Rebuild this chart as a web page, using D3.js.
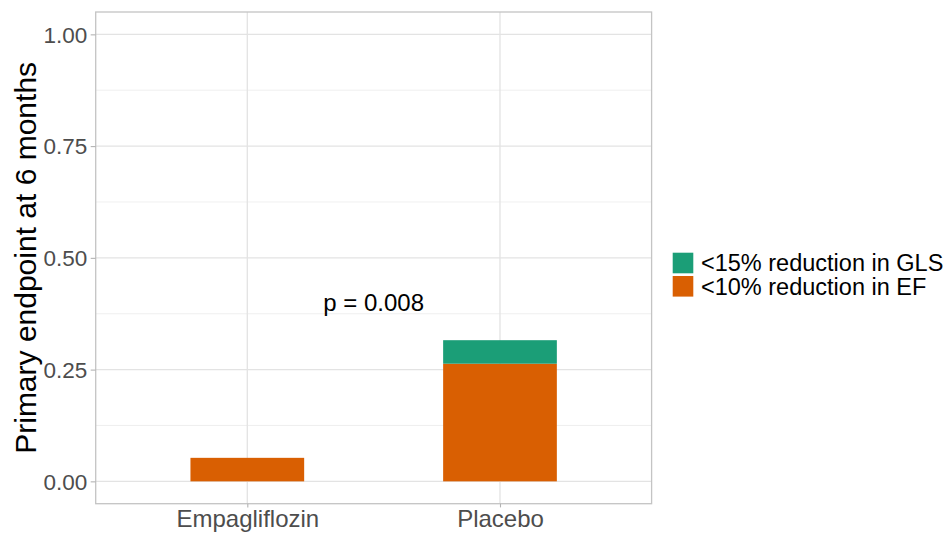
<!DOCTYPE html>
<html>
<head>
<meta charset="utf-8">
<script src="https://cdn.jsdelivr.net/npm/d3@7"></script>
<style>
  html, body { margin: 0; padding: 0; background: #fff; }
  text { font-family: "Liberation Sans", Arial, sans-serif; }
</style>
</head>
<body>
<svg id="chart" width="949" height="537"></svg>
<script>
// Treatment arms
const arms = ["Empagliflozin", "Placebo"];
// Proportion with <10% reduction in EF, per arm
const efReduction = [0.0526, 0.2632];
// Additional proportion with <15% reduction in GLS, per arm
const glsReduction = [0, 0.0526];
// Stack series, drawn bottom to top
const seriesKeys = ["<10% reduction in EF", "<15% reduction in GLS"];
const seriesColors = ["#D95F02", "#1B9E77"];
// Y tick labels
const yTicks = [0, 0.25, 0.5, 0.75, 1.0];
const yMinor = [0.125, 0.375, 0.625, 0.875];
const pLabel = "p = 0.008";
const yTitle = "Primary endpoint at 6 months";

const svg = d3.select("#chart");
const panel = { left: 95.7, right: 651.6, top: 12, bottom: 503.7 };

const x = d3.scalePoint().domain(arms).range([panel.left, panel.right]).padding(0.6);
const y = d3.scaleLinear().domain([-0.05, 1.05]).range([panel.bottom, panel.top]);
const bandW = x.step() * 0.45;

const table = arms.map((a, i) => ({ arm: a, ef: efReduction[i], gls: glsReduction[i] }));
const stacked = d3.stack().keys(["ef", "gls"])(table);

// panel grid
const grid = svg.append("g");
grid.selectAll(".minor").data(yMinor).join("line")
  .attr("x1", panel.left).attr("x2", panel.right)
  .attr("y1", d => y(d)).attr("y2", d => y(d))
  .attr("stroke", "#ebebeb").attr("stroke-width", 0.8);
grid.selectAll(".major").data(yTicks).join("line")
  .attr("x1", panel.left).attr("x2", panel.right)
  .attr("y1", d => y(d)).attr("y2", d => y(d))
  .attr("stroke", "#e3e3e3").attr("stroke-width", 1.3);
grid.selectAll(".vmajor").data(arms).join("line")
  .attr("x1", d => x(d)).attr("x2", d => x(d))
  .attr("y1", panel.top).attr("y2", panel.bottom)
  .attr("stroke", "#e3e3e3").attr("stroke-width", 1.3);

// stacked bars
svg.append("g").selectAll("g").data(stacked).join("g")
  .attr("fill", (d, i) => seriesColors[i])
  .selectAll("rect").data(d => d).join("rect")
  .attr("x", d => x(d.data.arm) - bandW / 2)
  .attr("width", bandW)
  .attr("y", d => y(d[1]))
  .attr("height", d => y(d[0]) - y(d[1]));

// panel border
svg.append("rect")
  .attr("x", panel.left).attr("y", panel.top)
  .attr("width", panel.right - panel.left).attr("height", panel.bottom - panel.top)
  .attr("fill", "none").attr("stroke", "#c4c4c4").attr("stroke-width", 1.3);

// axes
const yAxis = d3.axisLeft(y).tickValues(yTicks).tickFormat(d3.format(".2f")).tickSize(5).tickPadding(3.4);
const gy = svg.append("g").attr("transform", `translate(${panel.left},0)`).call(yAxis);
gy.select(".domain").remove();
gy.selectAll(".tick line").attr("stroke", "#b3b3b3").attr("stroke-width", 1.1);
gy.selectAll(".tick text").attr("fill", "#4d4d4d").style("font-size", "22.5px")
  .style("font-family", "'Liberation Sans', Arial, sans-serif").attr("dy", "0.35em");

const xAxis = d3.axisBottom(x).tickSize(3.7).tickPadding(3);
const gx = svg.append("g").attr("transform", `translate(0,${panel.bottom})`).call(xAxis);
gx.select(".domain").remove();
gx.selectAll(".tick line").attr("stroke", "#b3b3b3").attr("stroke-width", 1.1);
gx.selectAll(".tick text").attr("fill", "#4d4d4d").style("font-size", "24px")
  .style("font-family", "'Liberation Sans', Arial, sans-serif").attr("dy", "0.71em");

// y title
svg.append("text")
  .attr("transform", `translate(35.5,${(panel.top + panel.bottom) / 2}) rotate(-90)`)
  .attr("text-anchor", "middle")
  .style("font-size", "30px").attr("fill", "#000")
  .text(yTitle);

// p-value annotation between the arms
svg.append("text")
  .attr("x", (x(arms[0]) + x(arms[1])) / 2).attr("y", y(0.38))
  .attr("text-anchor", "middle")
  .style("font-size", "24px").attr("fill", "#000")
  .text(pLabel);

// legend (top entry is the top of the stack)
const legendItems = seriesKeys.map((k, i) => ({ key: k, color: seriesColors[i] })).reverse();
const lg = svg.append("g").attr("transform", "translate(672.7,252.7)");
const keyStep = 23.3, keySize = 20.6;
lg.selectAll("rect").data(legendItems).join("rect")
  .attr("x", 0).attr("y", (d, i) => i * keyStep)
  .attr("width", keySize).attr("height", keySize)
  .attr("fill", d => d.color);
lg.selectAll("text").data(legendItems).join("text")
  .attr("x", 28.3).attr("y", (d, i) => i * keyStep + keySize / 2)
  .attr("dy", "0.36em")
  .style("font-size", "23.5px").attr("fill", "#000")
  .text(d => d.key);
</script>
</body>
</html>
